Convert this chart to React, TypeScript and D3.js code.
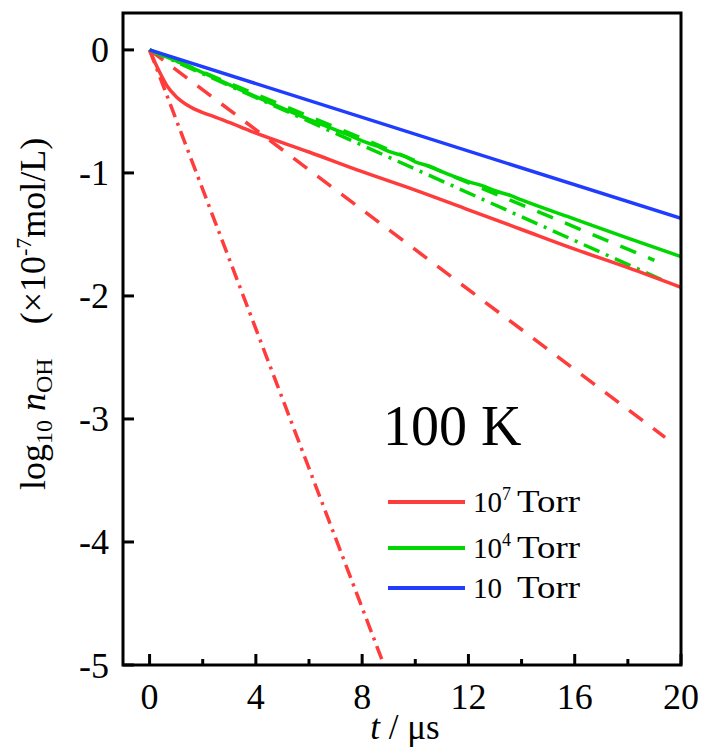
import React from "react";
import * as d3 from "d3";

// ---------- data ----------
const xMajorTicks = [0, 4, 8, 12, 16, 20];
const xMinorTicks = [2, 6, 10, 14, 18];
const yTicks = [0, -1, -2, -3, -4, -5];

// 10^7 Torr
const red7Solid: [number, number][] = [
  [0, 0], [0.2, -0.1], [0.4, -0.19], [0.68, -0.3], [1.0, -0.38], [1.43, -0.45],
  [2.0, -0.51], [2.4, -0.54], [3.0, -0.59], [3.8, -0.66], [6, -0.83], [8, -0.99],
  [10, -1.14], [12, -1.3], [14, -1.46], [16, -1.62], [18, -1.77], [20, -1.93],
];
const red7Dashed: [number, number][] = [[0, 0], [19.4, -3.15]];
const red7DashDot: [number, number][] = [[0, 0], [8.82, -5]];

// 10^4 Torr
const green4Solid: [number, number][] = [
  [0, 0], [1, -0.09], [2, -0.185], [4, -0.38], [6, -0.565], [7, -0.65], [7.6, -0.7],
  [8, -0.74], [8.6, -0.785], [9, -0.825], [9.6, -0.865], [10, -0.91], [10.6, -0.95],
  [11, -0.99], [12, -1.07], [12.6, -1.11], [13, -1.145], [13.6, -1.185], [14, -1.22],
  [16, -1.375], [18, -1.53], [20, -1.68],
];
const green4Dashed: [number, number][] = [[0, 0], [19.0, -1.71]];
const green4DashDot: [number, number][] = [[0, 0], [19.3, -1.87]];

// 10 Torr
const blue10Solid: [number, number][] = [[0, 0], [20, -1.37]];

const legendLabels = ["10", "10", "10"];
const legendSups = ["7", "4", ""];

const RED = "#ff3c3c";
const GREEN = "#00d600";
const BLUE = "#1f3cff";

const W = 701;
const H = 749;
const left = 123;
const right = 681;
const top = 13;
const bottom = 665;

export default function App() {
  const x = d3.scaleLinear().domain([-1, 20]).range([left, right]);
  const y = d3.scaleLinear().domain([-5, 0.3]).range([bottom, top]);
  const line = d3
    .line<[number, number]>()
    .x((d) => x(d[0]))
    .y((d) => y(d[1]))
    .curve(d3.curveMonotoneX);

  const font = "'Liberation Serif', 'Times New Roman', serif";

  const series = [
    { data: red7DashDot, color: RED, dash: "14,6,3,6" },
    { data: red7Dashed, color: RED, dash: "17,13" },
    { data: green4DashDot, color: GREEN, dash: "17,7,3,7" },
    { data: green4Dashed, color: GREEN, dash: "17,13" },
    { data: red7Solid, color: RED, dash: "" },
    { data: green4Solid, color: GREEN, dash: "" },
    { data: blue10Solid, color: BLUE, dash: "" },
  ];

  const legendColors = [RED, GREEN, BLUE];
  const legendY = [502, 548, 588];

  return (
    <svg width={W} height={H} style={{ display: "block", position: "absolute", left: 0, top: 0 }}>
      <rect x={0} y={0} width={W} height={H} fill="#fff" />
      <defs>
        <clipPath id="plotclip">
          <rect x={left} y={top} width={right - left} height={bottom - top} />
        </clipPath>
      </defs>

      <g clipPath="url(#plotclip)">
        {series.map((s, i) => (
          <path
            key={i}
            d={line(s.data) || ""}
            fill="none"
            stroke={s.color}
            strokeWidth={3.5}
            strokeDasharray={s.dash || undefined}
            strokeLinejoin="round"
          />
        ))}
      </g>

      {/* frame */}
      <rect x={left} y={top} width={right - left} height={bottom - top} fill="none" stroke="#000" strokeWidth={3} />

      {/* x ticks */}
      {xMajorTicks.map((t) => (
        <g key={"xm" + t}>
          <line x1={x(t)} x2={x(t)} y1={bottom} y2={bottom - 11} stroke="#000" strokeWidth={3} />
          <text x={x(t)} y={709} textAnchor="middle" fontFamily={font} fontSize={36}>
            {t}
          </text>
        </g>
      ))}
      {xMinorTicks.map((t) => (
        <line key={"xn" + t} x1={x(t)} x2={x(t)} y1={bottom} y2={bottom - 6} stroke="#000" strokeWidth={3} />
      ))}

      {/* y ticks */}
      {yTicks.map((v) => (
        <g key={"y" + v}>
          <line x1={left} x2={left + 11} y1={y(v)} y2={y(v)} stroke="#000" strokeWidth={3} />
          <text x={109} y={y(v) + 12.5} textAnchor="end" fontFamily={font} fontSize={36}>
            {v === 0 ? "0" : "-" + Math.abs(v)}
          </text>
        </g>
      ))}

      {/* x title */}
      <text x={405} y={739} textAnchor="middle" fontFamily={font} fontSize={35}>
        <tspan fontStyle="italic">t</tspan>
        <tspan> / μs</tspan>
      </text>

      {/* y title */}
      <text transform="rotate(-90)" x={-490} y={45} fontFamily={font} fontSize={36}>
        <tspan>log</tspan>
        <tspan fontSize={24} dy={7}>10</tspan>
        <tspan dy={-7}> </tspan>
        <tspan fontStyle="italic">n</tspan>
        <tspan fontSize={24} dy={7}>OH</tspan>
        <tspan dy={-7} dx={34}>(×10</tspan>
        <tspan fontSize={22} dy={-14}>-7</tspan>
        <tspan dy={14}>mol/L)</tspan>
      </text>

      {/* 100 K */}
      <text x={383} y={445} fontFamily={font} fontSize={56}>
        100 K
      </text>

      {/* legend */}
      {legendColors.map((c, i) => (
        <g key={"lg" + i}>
          <line x1={388} x2={465} y1={legendY[i]} y2={legendY[i]} stroke={c} strokeWidth={4} />
          <text x={473} y={legendY[i] + 10} fontFamily={font} fontSize={29}>
            {legendLabels[i]}
          </text>
          {legendSups[i] ? (
            <text x={502} y={legendY[i] - 2} fontFamily={font} fontSize={18}>
              {legendSups[i]}
            </text>
          ) : null}
          <text x={517} y={legendY[i] + 10} fontFamily={font} fontSize={31} textLength={63} lengthAdjust="spacingAndGlyphs">
            Torr
          </text>
        </g>
      ))}
    </svg>
  );
}
